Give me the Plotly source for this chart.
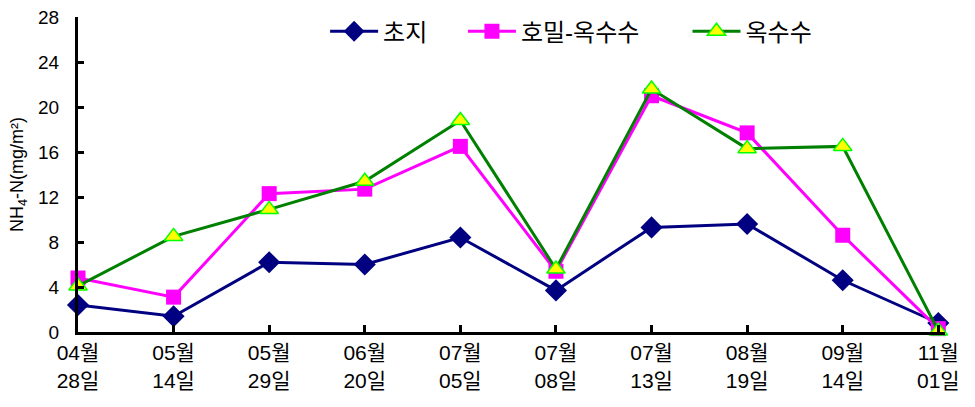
import plotly.graph_objects as go

dates = ["04월<br>28일", "05월<br>14일", "05월<br>29일", "06월<br>20일", "07월<br>05일",
         "07월<br>08일", "07월<br>13일", "08월<br>19일", "09월<br>14일", "11월<br>01일"]

grassland = [2.4, 1.4, 6.2, 6.0, 8.4, 3.7, 9.3, 9.6, 4.6, 0.8]
rye_corn = [4.8, 3.1, 12.3, 12.7, 16.5, 5.4, 21.0, 17.7, 8.6, 0.3]
corn = [4.1, 8.5, 10.9, 13.4, 18.8, 5.6, 21.6, 16.3, 16.5, 0.1]

y_ticks = [0, 4, 8, 12, 16, 20, 24, 28]

font_family = "Liberation Sans, Arial, Noto Sans CJK KR"
x_idx = list(range(len(dates)))

fig = go.Figure()
fig.add_trace(go.Scatter(
    x=x_idx, y=grassland, name="초지", mode="lines+markers", legend="legend",
    line=dict(color="#000080", width=3),
    marker=dict(symbol="diamond", size=17, color="#000080"),
    cliponaxis=False))
fig.add_trace(go.Scatter(
    x=x_idx, y=rye_corn, name="호밀-옥수수", mode="lines+markers", legend="legend2",
    line=dict(color="#FF00FF", width=3),
    marker=dict(symbol="square", size=15, color="#FF00FF"),
    cliponaxis=False))
fig.add_trace(go.Scatter(
    x=x_idx, y=corn, name="옥수수", mode="lines+markers", legend="legend3",
    line=dict(color="#008000", width=3),
    marker=dict(symbol="triangle-up", size=16, color="#FFFF00",
                line=dict(color="#00FF00", width=1.5)),
    cliponaxis=False))

# plot area spans 78..945 px horizontally (width 867)
legend_style = dict(orientation="h", y=1.025, xanchor="left", yanchor="top",
                    font=dict(size=24, family=font_family),
                    bgcolor="rgba(0,0,0,0)", itemwidth=48)

fig.update_layout(
    width=975, height=407,
    margin=dict(l=78, r=30, t=17, b=75, autoexpand=False),
    paper_bgcolor="white", plot_bgcolor="white",
    font=dict(family=font_family, color="black", size=18),
    showlegend=True,
    legend=dict(legend_style, x=0.285),
    legend2=dict(legend_style, x=0.444),
    legend3=dict(legend_style, x=0.703),
    xaxis=dict(range=[0, 9.07], tickmode="array", tickvals=x_idx, ticktext=dates,
               showline=True, linecolor="black", linewidth=3,
               ticks="inside", ticklen=7, tickwidth=3, tickcolor="black",
               showgrid=False, zeroline=False,
               tickfont=dict(size=21, family=font_family)),
    yaxis=dict(range=[0, 28], tickmode="array", tickvals=y_ticks,
               showline=True, linecolor="black", linewidth=3,
               ticks="inside", ticklen=6, tickwidth=3, tickcolor="black",
               showgrid=False, zeroline=False, ticklabelstandoff=12,
               tickfont=dict(size=19, family=font_family),
               title=dict(text="NH<sub>4</sub>-N(mg/m²)", standoff=10,
                          font=dict(size=18, family=font_family))),
)

fig.write_html("out.html")
